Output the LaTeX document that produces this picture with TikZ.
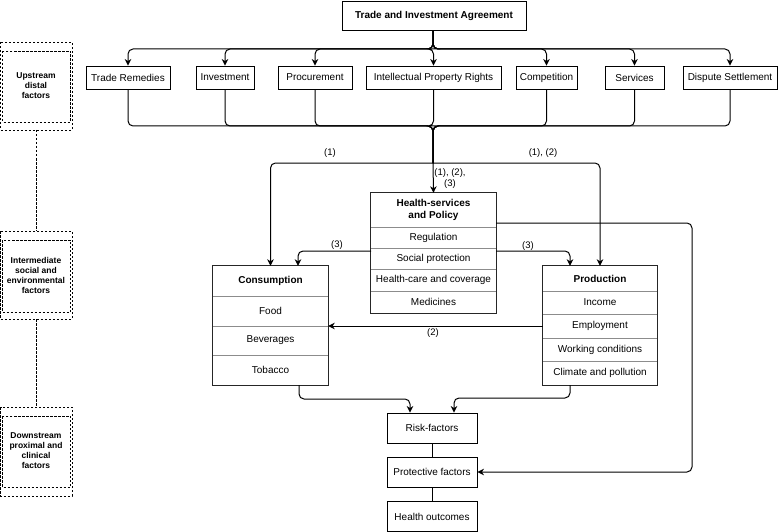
\documentclass[tikz,border=0pt]{standalone}
\usepackage{fontspec}
\setmainfont{Liberation Sans}
\usetikzlibrary{arrows.meta}
\begin{document}
\begin{tikzpicture}[x=1pt,y=-1pt,
  font=\fontsize{10}{11.5}\selectfont,
  box/.style={draw, line width=0.9pt, inner sep=0pt, minimum height=23pt},
  row/.style={inner sep=0pt, minimum width=#1},
  cbox/.style={draw=black!85, line width=1.3pt},
  divl/.style={draw=black!45, line width=0.8pt},
  arr/.style={-{Stealth[length=6.5pt,width=6.5pt,inset=2pt]}, line width=1pt, rounded corners=5pt},
  ln/.style={line width=1pt, rounded corners=5pt},
  lvl/.style={draw, line width=0.9pt, dash pattern=on 2.5pt off 1.5pt},
  lvltext/.style={font=\fontsize{8.5}{10}\selectfont\bfseries, align=center},
  lab/.style={font=\fontsize{9.5}{11}\selectfont, inner sep=0pt, align=center}
]
\useasboundingbox (0,0) rectangle (779,532);

% ---------- level boxes (left) ----------
\draw[lvl] (0.8,42) rectangle (72,130);
\draw[lvl] (2.5,51) rectangle (70.5,122);
\node[lvltext] (up) at (36,86) {Upstream\\distal\\factors};
\draw[lvl] (0.8,231) rectangle (72,319);
\draw[lvl] (2.5,240) rectangle (70.5,312);
\node[lvltext] (mid) at (36,275) {Intermediate\\social and\\environmental\\factors};
\draw[lvl] (0.8,407) rectangle (72,496);
\draw[lvl] (2.5,416) rectangle (70.5,487);
\node[lvltext] (down) at (36,451) {Downstream\\proximal and\\clinical\\factors};
\coordinate (l1) at (36,130); \coordinate (l2) at (36,231);
\coordinate (l3) at (36,319); \coordinate (l4) at (36,407);
\draw[lvl] (l1) -- (l2);
\draw[lvl] (l3) -- (l4);

% ---------- top ----------
\node[box, font=\fontsize{10}{11.5}\selectfont\bfseries, minimum width=184pt, minimum height=29pt] (tia) at (434,15.5) {Trade and Investment Agreement};

\node[box, minimum width=84pt]  (tr)   at (128,77.5)   {Trade Remedies};
\node[box, minimum width=58pt]  (inv)  at (225,77.5)   {Investment};
\node[box, minimum width=74pt]  (proc) at (315,77.5)   {Procurement};
\node[box, minimum width=135pt] (ipr)  at (433.5,77.5) {Intellectual Property Rights};
\node[box, minimum width=61pt]  (comp) at (546.5,77.5) {Competition};
\node[box, minimum width=59pt]  (serv) at (634.5,77.5) {Services};
\node[box, minimum width=94pt]  (disp) at (730,77.5)   {Dispute Settlement};

\coordinate (bus1) at (433,49);
\coordinate (bus2) at (433,126);
\coordinate (split) at (433,163);

\foreach \b in {tr,inv,proc,ipr,comp,serv,disp}{
  \draw[arr] (tia.south -| bus1) -- (bus1) -| (\b.north);
  \draw[ln] (\b.south) |- (bus2) -- (split);
}

% ---------- Health-services and Policy ----------
\node[row=125pt, minimum height=34pt, font=\fontsize{10}{11.5}\selectfont\bfseries, align=center] (hs) at (433.5,210) {Health-services\\and Policy};
\node[row=125pt, minimum height=21pt] (hsreg) at (433.5,237.5) {Regulation};
\node[row=125pt, minimum height=21pt] (hssoc) at (433.5,258.5) {Social protection};
\node[row=125pt, minimum height=22pt] (hshc)  at (433.5,280)   {Health-care and coverage};
\node[row=125pt, minimum height=22pt] (hsmed) at (433.5,302)   {Medicines};
\draw[divl] (hs.south west) -- (hs.south east);
\draw[divl] (hsreg.south west) -- (hsreg.south east);
\draw[divl] (hssoc.south west) -- (hssoc.south east);
\draw[divl] (hshc.south west) -- (hshc.south east);
\draw[cbox] (hs.north west) rectangle (hsmed.south east);

% ---------- Consumption ----------
\node[row=115pt, minimum height=30pt, font=\fontsize{10}{11.5}\selectfont\bfseries] (cons) at (270.5,281) {Consumption};
\node[row=115pt, minimum height=30pt] (food) at (270.5,311)   {Food};
\node[row=115pt, minimum height=29pt] (bev)  at (270.5,340.5) {Beverages};
\node[row=115pt, minimum height=30pt] (tob)  at (270.5,370)   {Tobacco};
\draw[divl] (cons.south west) -- (cons.south east);
\draw[divl] (food.south west) -- (food.south east);
\draw[divl] (bev.south west) -- (bev.south east);
\draw[cbox] (cons.north west) rectangle (tob.south east);

% ---------- Production ----------
\node[row=114pt, minimum height=25pt, font=\fontsize{10}{11.5}\selectfont\bfseries] (prod) at (600,278.5) {Production};
\node[row=114pt, minimum height=23pt] (inc)  at (600,302.5) {Income};
\node[row=114pt, minimum height=24pt] (emp)  at (600,326)   {Employment};
\node[row=114pt, minimum height=23pt] (work) at (600,349.5) {Working conditions};
\node[row=114pt, minimum height=24pt] (clim) at (600,373)   {Climate and pollution};
\draw[divl] (prod.south west) -- (prod.south east);
\draw[divl] (inc.south west) -- (inc.south east);
\draw[divl] (emp.south west) -- (emp.south east);
\draw[divl] (work.south west) -- (work.south east);
\draw[cbox] (prod.north west) rectangle (clim.south east);

% ---------- bottom chain ----------
\node[box, minimum width=90pt, minimum height=30pt] (risk) at (432,428) {Risk-factors};
\node[box, minimum width=90pt, minimum height=30pt] (prot) at (432,472) {Protective factors};
\node[box, minimum width=90pt, minimum height=30pt] (out)  at (432,516.5) {Health outcomes};
\draw[line width=1pt] (risk.south) -- (prot.north);
\draw[line width=1pt] (prot.south) -- (out.north);

% ---------- connectors ----------
\draw[arr] (split) -| (cons.north);
\draw[arr] (split) -| (prod.north);
\draw[arr] (split) -- (hs.north);
\node[lab] at (330,153) {(1)};
\node[lab] at (543,153) {(1), (2)};
\node[lab] at (450,179) {(1), (2),\\(3)};

\coordinate (hsl) at (371,251);
\coordinate (hsr) at (496,251);
\draw[arr] (hsl) -| ([xshift=27.5pt]cons.north);
\node[lab] at (337,245) {(3)};
\draw[arr] (hsr) -| ([xshift=-30pt]prod.north);
\node[lab] at (528,246) {(3)};

\draw[arr] (emp.west) -- (emp.west -| food.east);
\node[lab] at (433,333) {(2)};

\coordinate (hsout) at (496,223);
\coordinate (rc) at (692,223);
\draw[arr] (hsout) -- (rc) |- (prot.east);

\coordinate (cb) at (299,399);
\coordinate (pb) at (570,398);
\draw[arr] (cb |- tob.south) -- (cb) -| ([xshift=-22pt]risk.north);
\draw[arr] (pb |- clim.south) -- (pb) -| ([xshift=22pt]risk.north);
\end{tikzpicture}
\end{document}
